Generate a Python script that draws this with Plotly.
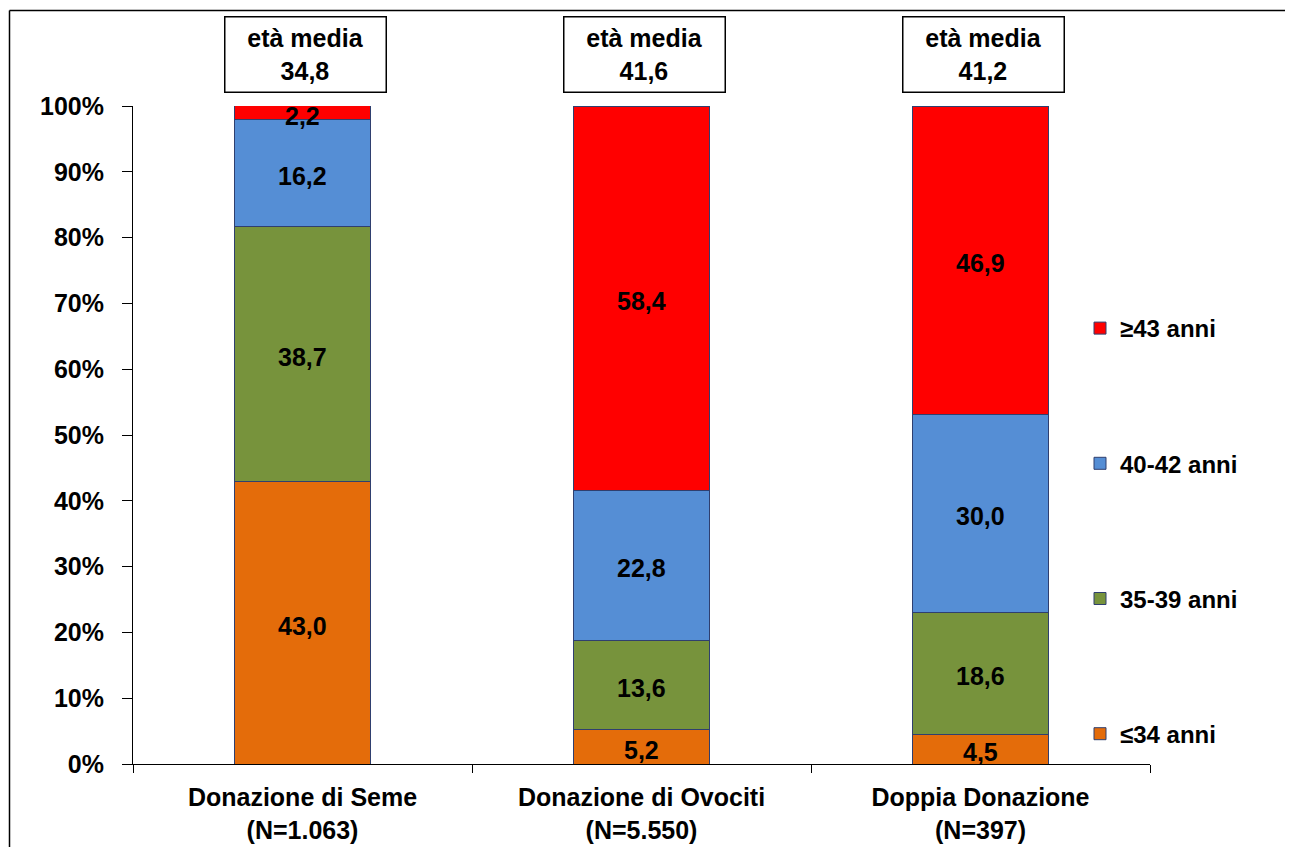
import numpy as np
import plotly.graph_objects as go

categories = ["Donazione di Seme<br>(N=1.063)", "Donazione di Ovociti<br>(N=5.550)", "Doppia Donazione<br>(N=397)"]
series_names = ["≤34 anni", "35-39 anni", "40-42 anni", "≥43 anni"]
le34 = [43.0, 5.2, 4.5]
s35_39 = [38.7, 13.6, 18.6]
s40_42 = [16.2, 22.8, 30.0]
ge43 = [2.2, 58.4, 46.9]
mean_age = ["34,8", "41,6", "41,2"]
colors = ["#E46C0A", "#77933C", "#558ED5", "#FF0000"]

FONT = "Arial, Liberation Sans, sans-serif"
W, H = 1293, 847
OFF = 8  # page body margin offset
PW, PH = 1017, 658
ML, MT = 133 - OFF, 106 - OFF
MR = W - ML - PW
MB = H - MT - PH
BOT = MT + PH  # plot bottom in figure coords


def py(abs_y):
    return (BOT - (abs_y - OFF)) / PH


def px(abs_x):
    return ((abs_x - OFF) - ML) / PW


series = [le34, s35_39, s40_42, ge43]
fig = go.Figure()
for i, (name, vals, col) in enumerate(zip(series_names, series, colors)):
    fig.add_trace(go.Bar(
        x=categories, y=vals, name=name, legendgroup=name, legendrank=len(series) - i,
        marker=dict(color=col, line=dict(color="#2F3F6F", width=1)),
        hoverinfo="x+y+name",
    ))

annotations = []
# value labels centred in each segment
base = np.zeros(len(categories))
for vals in series:
    v = np.array(vals)
    for cat, b, val in zip(categories, base, v):
        annotations.append(dict(
            x=cat, xref="x", y=b + val / 2, yref="y",
            text=f"<b>{val:.1f}</b>".replace(".", ","), showarrow=False,
            font=dict(family=FONT, size=25, color="black"),
            xanchor="center", yanchor="middle", yshift=-3,
        ))
    base = base + v

for cat, m in zip(categories, mean_age):
    annotations.append(dict(
        x=cat, xref="x", y=py(54.5), yref="paper", yanchor="middle", xanchor="center",
        text=f"<b>età media<br>{m}</b>", showarrow=False,
        font=dict(family=FONT, size=25, color="black"),
        bordercolor="black", borderwidth=1.5, bgcolor="white",
        width=158, height=72, xshift=3, valign="middle",
    ))

# outer frame (left and top edges)
fx0 = px(9.5)
fy1 = py(10.5)
shapes = [
    dict(type="line", xref="paper", yref="paper", x0=fx0, x1=fx0, y0=-0.5, y1=fy1, line=dict(color="black", width=1.5)),
    dict(type="line", xref="paper", yref="paper", x0=fx0, x1=1.5, y0=fy1, y1=fy1, line=dict(color="black", width=1.5)),
]

fig.update_layout(
    width=W, height=H, margin=dict(l=ML, r=MR, t=MT, b=MB),
    barmode="stack", bargap=0.6,
    separators=",.",
    plot_bgcolor="white", paper_bgcolor="white",
    font=dict(family=FONT, color="black"),
    legend=dict(
        x=px(1080), xanchor="left", y=py(306), yanchor="top",
        traceorder="grouped", tracegroupgap=101,
        font=dict(family=FONT, size=24, color="black", weight="bold"),
        bgcolor="rgba(0,0,0,0)",
    ),
    annotations=annotations,
    shapes=shapes,
    xaxis=dict(
        showline=True, linecolor="black", linewidth=1,
        ticks="outside", tickson="boundaries", ticklen=8, tickcolor="black",
        tickfont=dict(family=FONT, size=25, color="black", weight="bold"),
        ticklabelstandoff=11,
        showgrid=False,
    ),
    yaxis=dict(
        range=[0, 100], dtick=10, ticksuffix="%",
        showline=True, linecolor="black", linewidth=1,
        ticks="outside", ticklen=10, tickcolor="black",
        tickfont=dict(family=FONT, size=25, color="black", weight="bold"),
        ticklabelstandoff=13,
        showgrid=False, zeroline=False,
    ),
)
fig.write_html("out.html")
